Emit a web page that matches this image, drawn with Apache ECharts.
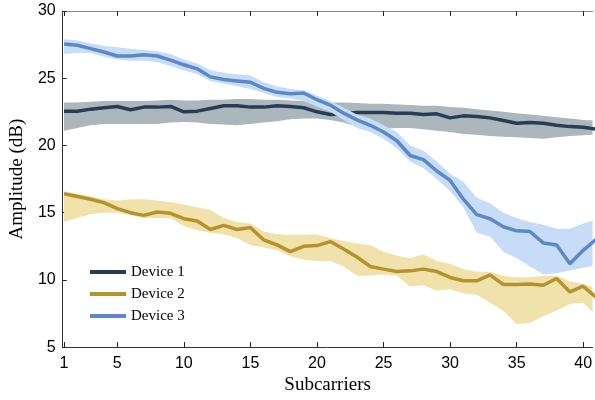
<!DOCTYPE html>
<html>
<head>
<meta charset="utf-8">
<script src="https://cdn.jsdelivr.net/npm/echarts@6/dist/echarts.min.js"></script>
<style>html,body{margin:0;padding:0;background:#fff}#c{width:595px;height:400px}</style>
</head>
<body>
<div id="c"></div>
<script>
var subcarriers = [1,2,3,4,5,6,7,8,9,10,11,12,13,14,15,16,17,18,19,20,21,22,23,24,25,26,27,28,29,30,31,32,33,34,35,36,37,38,39,40,41];
var xTicks = [1,5,10,15,20,25,30,35,40];

var device1 = [22.55,22.55,22.7,22.8,22.9,22.65,22.85,22.85,22.9,22.5,22.55,22.75,22.95,22.95,22.85,22.85,22.95,22.9,22.8,22.5,22.3,22.35,22.45,22.45,22.45,22.4,22.4,22.3,22.35,22.05,22.2,22.15,22.05,21.85,21.65,21.7,21.65,21.5,21.4,21.35,21.2];
var device1Upper = [23.2,23.2,23.25,23.3,23.3,23.3,23.3,23.35,23.4,23.35,23.35,23.4,23.4,23.45,23.45,23.4,23.4,23.35,23.3,23.2,23.2,23.2,23.15,23.1,23.1,23.05,23.0,22.95,22.95,22.85,22.8,22.7,22.6,22.5,22.4,22.3,22.2,22.1,22.0,21.9,21.85];
var device1Lower = [21.1,21.3,21.5,21.6,21.6,21.6,21.6,21.6,21.7,21.75,21.7,21.6,21.55,21.5,21.6,21.7,21.8,21.95,22.0,22.0,21.9,21.7,21.4,21.2,21.25,21.3,21.3,21.2,21.1,21.0,20.85,20.8,20.7,20.65,20.6,20.55,20.5,20.6,20.7,20.75,20.8];

var device2 = [16.4,16.2,16.0,15.75,15.3,15.0,14.8,15.05,14.95,14.55,14.38,13.75,14.05,13.75,13.9,12.97,12.6,12.1,12.5,12.55,12.85,12.3,11.7,11.0,10.8,10.62,10.67,10.8,10.62,10.18,9.93,9.93,10.37,9.65,9.65,9.7,9.6,10.1,9.1,9.53,8.67];
var device2Upper = [16.6,16.4,16.2,16.0,15.9,16.0,16.0,15.9,15.8,15.6,15.4,15.2,14.6,14.3,14.2,13.6,13.4,13.35,13.35,13.4,13.1,12.9,12.7,12.6,12.1,11.8,11.6,11.9,11.4,11.2,10.8,10.6,10.6,10.3,10.2,10.2,10.3,10.3,9.9,9.7,9.4];
var device2Lower = [14.3,14.6,14.9,15.0,15.0,14.8,14.6,14.6,14.6,14.0,13.7,13.5,13.4,13.1,12.6,12.4,12.2,11.75,11.5,11.4,11.4,11.0,10.3,10.3,10.4,10.3,9.5,9.6,9.2,9.3,9.0,8.9,8.3,7.7,6.7,6.8,7.3,7.7,8.2,8.3,7.3];

var device3 = [27.55,27.45,27.2,26.95,26.65,26.65,26.75,26.65,26.35,26.0,25.7,25.1,24.9,24.8,24.7,24.25,23.95,23.85,23.9,23.4,23.0,22.4,21.9,21.5,21.0,20.35,19.25,18.95,18.1,17.4,16.0,14.85,14.55,13.95,13.65,13.6,12.75,12.6,11.2,12.2,13.05];
var device3Upper = [27.9,27.8,27.6,27.4,27.3,27.2,27.1,27.0,26.8,26.4,26.1,25.6,25.4,25.3,25.2,24.7,24.4,24.2,24.1,23.7,23.3,22.8,22.3,22.0,21.5,21.0,20.0,19.6,18.8,17.9,17.3,16.1,15.7,15.0,14.6,14.3,14.1,13.8,13.8,14.2,14.5];
var device3Lower = [26.8,26.9,26.9,26.6,26.4,26.3,26.3,26.2,25.9,25.6,25.3,24.8,24.6,24.4,24.2,23.9,23.6,23.5,23.3,22.9,22.5,21.9,21.3,21.0,20.5,19.8,18.8,18.3,17.5,16.6,15.4,13.5,13.2,12.1,11.6,11.0,10.4,10.5,10.7,10.9,11.1];

var names = ['Device 1','Device 2','Device 3'];
var lineColors = ['#263d55','#b5922c','#5b88c9'];
var bandColors = ['#abb7bd','#f1e1ab','#c6dcf7'];
var means = [device1, device2, device3];
var uppers = [device1Upper, device2Upper, device3Upper];
var lowers = [device1Lower, device2Lower, device3Lower];

function pairs(arr){ return subcarriers.map(function(x,i){ return [x, arr[i]]; }); }

function bandRenderer(up, lo, color){
  return function(params, api){
    var pts = [];
    for (var i = 0; i < subcarriers.length; i++) pts.push(api.coord([subcarriers[i], up[i]]));
    for (var j = subcarriers.length - 1; j >= 0; j--) pts.push(api.coord([subcarriers[j], lo[j]]));
    var cs = params.coordSys;
    return {
      type:'polygon', shape:{points:pts}, style:{fill:color, stroke:null},
      clipPath:{type:'rect', shape:{x:cs.x, y:cs.y, width:cs.width, height:cs.height}}
    };
  };
}

var series = [];
for (var d = 0; d < 3; d++) {
  series.push({
    type:'custom', silent:true, data:[[subcarriers[0], uppers[d][0]]],
    renderItem:bandRenderer(uppers[d], lowers[d], bandColors[d]), z: 2 + d*3
  });
  series.push({
    name:names[d], type:'line', data:pairs(means[d]), symbol:'none',
    lineStyle:{color:lineColors[d], width:3.5}, itemStyle:{color:lineColors[d]}, z: 3 + d*3
  });
}

var chart = echarts.init(document.getElementById('c'), null, {renderer:'canvas'});
chart.setOption({
  animation:false,
  backgroundColor:'#fff',
  grid:{left:56, right:0, top:11, bottom:50, containLabel:false},
  legend:{
    data:names, orient:'vertical', left:85, top:259, icon:'rect',
    itemWidth:36, itemHeight:4, itemGap:6,
    textStyle:{fontFamily:'Liberation Serif', fontSize:15, color:'#000', lineHeight:16}
  },
  xAxis:[{
    type:'value', min:0.9, max:40.7, position:'bottom',
    name:'Subcarriers', nameLocation:'middle', nameGap:28,
    nameTextStyle:{fontFamily:'Liberation Serif', fontSize:19, color:'#000'},
    axisLine:{show:true, onZero:false, lineStyle:{color:'#333', width:1}},
    axisTick:{show:true, inside:true, length:5, customValues:xTicks, lineStyle:{color:'#222'}},
    axisLabel:{customValues:xTicks, fontFamily:'Liberation Sans', fontSize:16, color:'#000', margin:8},
    splitLine:{show:false}
  },{
    type:'value', min:0.9, max:40.7, position:'top',
    axisLine:{show:true, onZero:false, lineStyle:{color:'#8a8a8a', width:1}},
    axisTick:{show:true, inside:true, length:5, customValues:xTicks, lineStyle:{color:'#222'}},
    axisLabel:{show:false}, splitLine:{show:false}
  }],
  yAxis:{
    type:'value', min:5, max:30, interval:5,
    name:'Amplitude (dB)', nameLocation:'middle', nameGap:31,
    nameTextStyle:{fontFamily:'Liberation Serif', fontSize:19, color:'#000'},
    axisLine:{show:true, onZero:false, lineStyle:{color:'#333', width:1}},
    axisTick:{show:true, inside:true, length:4, lineStyle:{color:'#222'}},
    axisLabel:{fontFamily:'Liberation Sans', fontSize:16, color:'#000', margin:7},
    splitLine:{show:false}
  },
  series:series
});
</script>
</body>
</html>
